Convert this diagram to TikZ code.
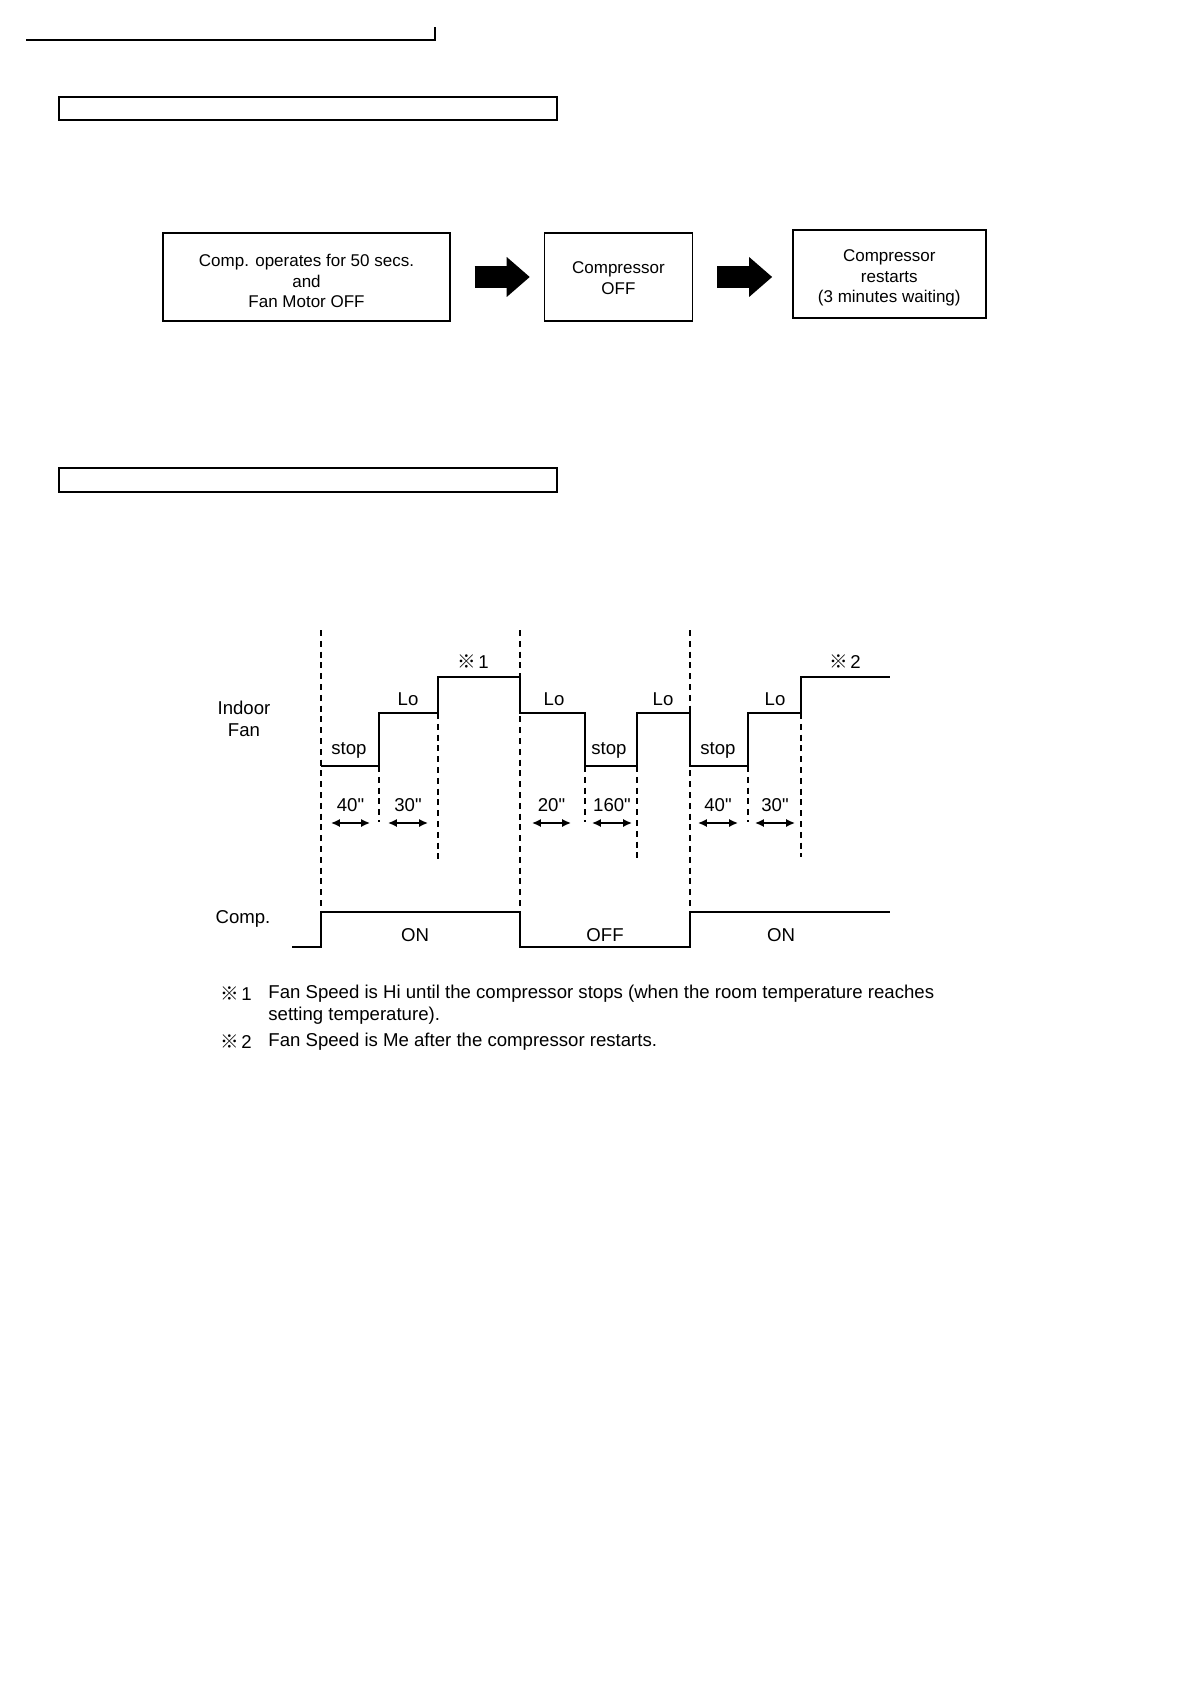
\documentclass[tikz,border=0pt]{standalone}
\usepackage{fontspec}
\setmainfont{Liberation Sans}
\newfontfamily\cjk{Noto Sans CJK JP}
\usetikzlibrary{positioning, arrows.meta, calc}

\newcommand{\refmark}[1]{{\cjk ※}\hspace{1.2pt}#1}

\begin{document}
\begin{tikzpicture}[
    x=0.5pt, y=-0.5pt,
    >={Latex[length=4.4pt,width=4pt]},
    flowbox/.style={
        rectangle,
        draw,
        line width=0.7pt,
        inner sep=0pt,
        minimum height=44pt
    },
    flowtext/.style={
        align=center,
        inner sep=0pt,
        font=\fontsize{8.5}{10.2}\selectfont
    },
    headbox/.style={
        draw,
        line width=1pt
    },
    bigarrow/.style={
        line width=11pt,
        -{Triangle[length=11.5pt,width=20pt,line width=0pt]}
    },
    wave/.style={
        line width=0.9pt
    },
    guide/.style={
        line width=0.65pt,
        dash pattern=on 3pt off 2.4pt
    },
    span/.style={
        <->,
        line width=0.75pt
    },
    lbl/.style={
        inner sep=0pt,
        align=center,
        font=\fontsize{9.3}{11.2}\selectfont
    }
]

    \useasboundingbox (0,0) rectangle (1190,1684);

    % Page header
    \draw[line width=0.9pt] (26,40) -- (435,40) -- (435,27);
    \draw[headbox] (59,97) rectangle (557,120);
    \draw[headbox] (59,468) rectangle (557,492);

    % Flow
    \node[flowbox, minimum width=143.5pt,
        label={[flowtext, yshift=-2pt]center:{Comp. operates for 50 secs.\\and\\Fan Motor OFF}}] (opr) at (306.5,277) {};
    \node[flowbox, minimum width=74pt, right=46.5pt of opr,
        label={[flowtext, yshift=-0.5pt]center:{Compressor\\OFF}}] (off) {};
    \node[flowbox, minimum width=96.5pt, right=49.5pt of off, yshift=1.5pt,
        label={[flowtext, yshift=-2pt]center:{Compressor\\restarts\\(3 minutes waiting)}}] (rst) {};

    \draw[bigarrow] ([xshift=12pt]opr.east) -- ([xshift=-7pt]off.west);
    \draw[bigarrow] ([xshift=12pt]off.east) -- ($(rst.west |- off.east)+(-10pt,0)$);

    % Guide lines
    \foreach \x in {321,520,690}
        \draw[guide] (\x,630) -- (\x,912);
    \foreach \x/\ya/\yb in {379/766/822, 438/713/859, 585/766/822, 637/766/859, 748/766/822, 801/713/857}
        \draw[guide] (\x,\ya) -- (\x,\yb);

    % Indoor fan
    \node[lbl] (fan) at (244,719) {Indoor\\Fan};
    \draw[wave] (321,766) -- (379,766) -- (379,713) -- (438,713) -- (438,677) -- (520,677)
        -- (520,713) -- (585,713) -- (585,766) -- (637,766) -- (637,713) -- (690,713)
        -- (690,766) -- (748,766) -- (748,713) -- (801,713) -- (801,677) -- (890,677);

    \node[lbl] (hi1) at (473,662) {\refmark{1}};
    \node[lbl] (hi2) at (845,662) {\refmark{2}};
    \foreach \x [count=\i] in {408,554,663,775}
        \node[lbl] (lo\i) at (\x,699) {Lo};
    \foreach \x [count=\i] in {349,609,718}
        \node[lbl] (stop\i) at (\x,750) {stop};

    % Durations
    \foreach \a/\b/\t [count=\i] in {331/370/40, 388/428/30, 532/571/20, 592/632/160, 698/738/40, 755/795/30} {
        \draw[span] (\a,823) -- (\b,823);
        \node[lbl] (dur\i) at ({(\a+\b)/2},805) {\t\textquotedbl};
    }

    % Compressor
    \node[lbl] (comp) at (243,919) {Comp.};
    \draw[wave] (292,947) -- (321,947) -- (321,912) -- (520,912) -- (520,947)
        -- (690,947) -- (690,912) -- (890,912);
    \node[lbl] (on1) at (415,935) {ON};
    \node[lbl] (off1) at (605,935) {OFF};
    \node[lbl] (on2) at (781,935) {ON};

    % Notes
    \node[lbl, anchor=west] (m1) at (220,994) {\refmark{1}};
    \node[lbl, anchor=west] (n1) at (268,994) {Fan Speed is Hi until the compressor stops (when the room temperature reaches};
    \node[lbl, anchor=west] (n1b) at (268,1016) {setting temperature).};
    \node[lbl, anchor=west] (m2) at (220,1042) {\refmark{2}};
    \node[lbl, anchor=west] (n2) at (268,1042) {Fan Speed is Me after the compressor restarts.};

\end{tikzpicture}
\end{document}
